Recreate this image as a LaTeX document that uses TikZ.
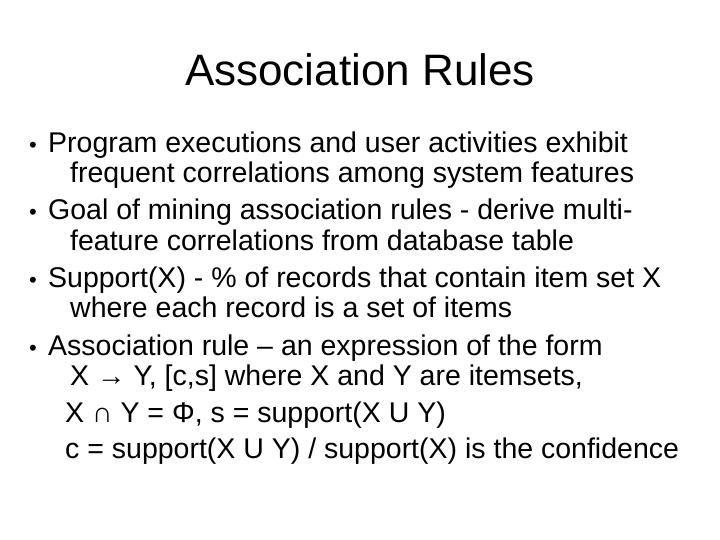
\documentclass[tikz,border=0pt]{standalone}
\usepackage{fontspec}
\setmainfont{Liberation Sans}
\begin{document}
\begin{tikzpicture}[x=1pt,y=-1pt,
 ln/.style={anchor=base west,inner sep=0pt,font=\fontsize{28.5}{30}\selectfont},
 bl/.style={anchor=base west,inner sep=0pt,font=\fontsize{22}{30}\selectfont}]
\useasboundingbox (0,0) rectangle (720,540);
\node[anchor=base,inner sep=0pt,font=\fontsize{44}{48}\selectfont] (t) at (360,86) {Association Rules};
\node[bl] (b1) at (29,153) {•};
\node[ln] (l1) at (48,153) {Program executions and user activities exhibit};
\node[ln] (l2) at (70,183) {frequent correlations among system features};
\node[bl] (b2) at (29,220) {•};
\node[ln] (l3) at (48,220) {Goal of mining association rules - derive multi-};
\node[ln] (l4) at (70,250) {feature correlations from database table};
\node[bl] (b3) at (29,287) {•};
\node[ln] (l5) at (48,287) {Support(X) - \% of records that contain item set X};
\node[ln] (l6) at (70,317) {where each record is a set of items};
\node[bl] (b4) at (29,355) {•};
\node[ln] (l7) at (48,355) {Association rule – an expression of the form};
\node[ln] (l8) at (70,385) {X → Y, [c,s] where X and Y are itemsets,};
\node[ln] (l9) at (65,422) {X ∩ Y = Φ, s = support(X U Y)};
\node[ln] (l10) at (65,458) {c = support(X U Y) / support(X) is the confidence};
\end{tikzpicture}
\end{document}
